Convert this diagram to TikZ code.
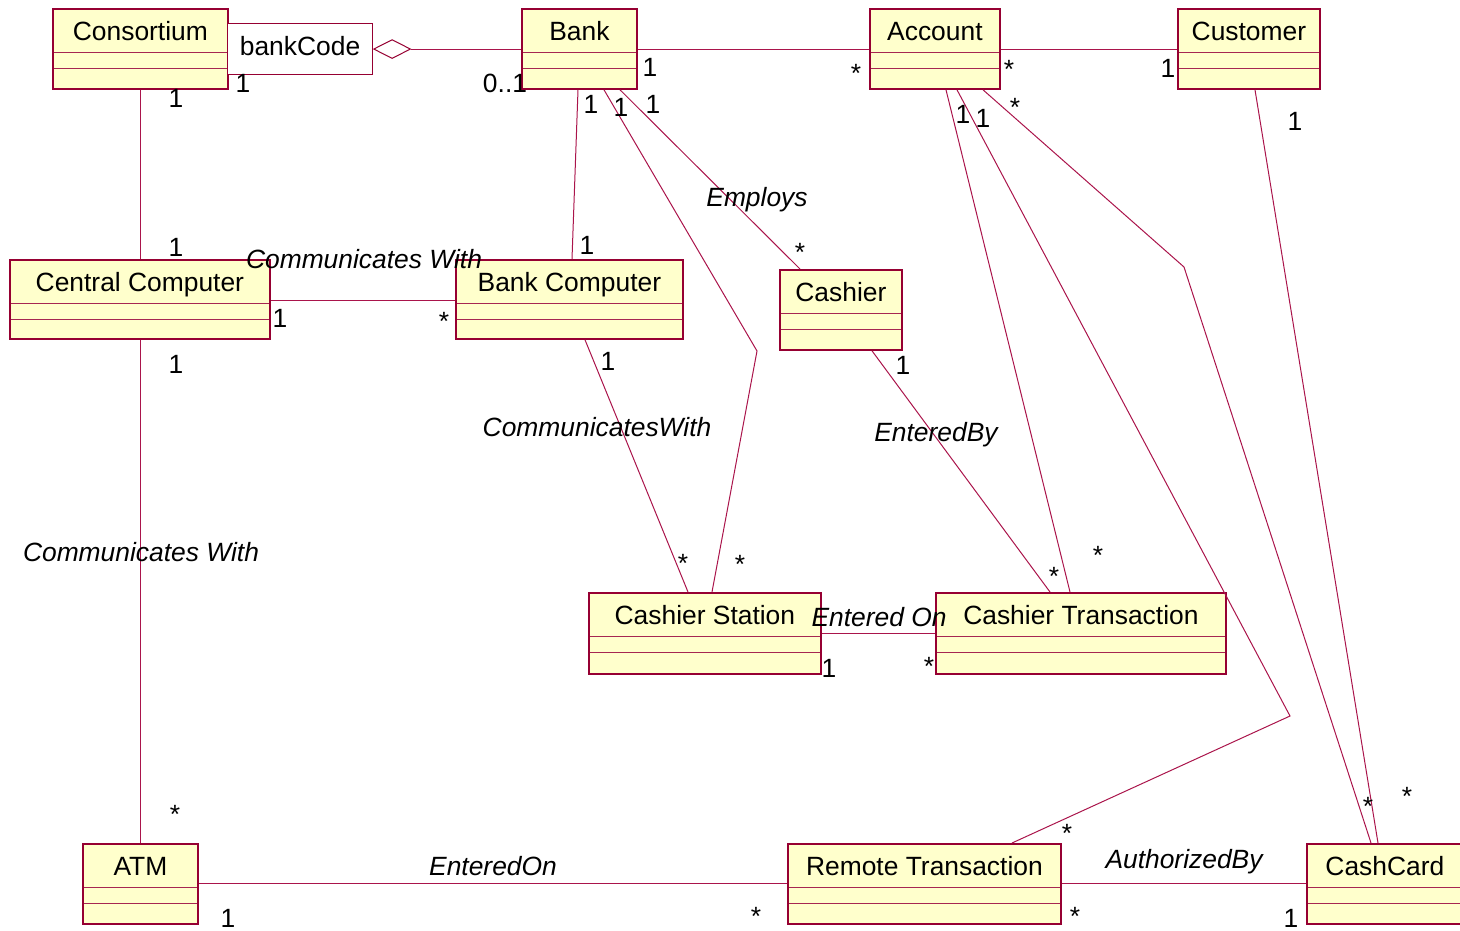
\documentclass[tikz,border=0pt]{standalone}
\usepackage{fontspec}
\setmainfont{Liberation Sans}
\usetikzlibrary{shapes.geometric,calc}
\definecolor{umlred}{RGB}{150,0,50}
\definecolor{umlline}{RGB}{170,20,75}
\definecolor{umlfill}{RGB}{255,255,204}
\tikzset{
  classbox/.style={rectangle, draw=umlred, line width=1.8pt, fill=umlfill,
    inner sep=0pt, anchor=north west,
    path picture={\draw[umlred!85, line width=1pt]
      ([yshift=-44pt]path picture bounding box.north west) -- ([yshift=-44pt]path picture bounding box.north east)
      ([yshift=-60pt]path picture bounding box.north west) -- ([yshift=-60pt]path picture bounding box.north east);}},
  qualbox/.style={rectangle, draw=umlred, line width=1.1pt, fill=white, inner sep=0pt, anchor=north west},
  aggdiamond/.style={diamond, draw=umlred, line width=1pt, fill=white, inner sep=0pt,
    aspect=1.95, minimum width=37pt, minimum height=19pt, anchor=west},
  cname/.style={anchor=base},
  mult/.style={anchor=base},
  role/.style={anchor=base, font=\fontsize{26.4}{30}\selectfont\itshape},
  assoc/.style={draw=umlline, line width=1pt},
}
\newcommand\umlcls[6]{%
  \node[classbox, minimum width=#4pt, minimum height=#5pt] (#1) at (#2,#3) {};
  \node[cname] (#1-name) at ([yshift=-32pt]#1.north) {#6};}
\newcommand\mult[4]{\node[mult] (#1) at (#2,#3) {#4};}
\begin{document}
\begin{tikzpicture}[x=1pt, y=-1pt, every node/.style={font=\fontsize{26.4}{30}\selectfont}]
\useasboundingbox (0,0) rectangle (1460,930);

% classes
\umlcls{cons}{52}{8}{175}{80}{Consortium}
\node[qualbox, minimum width=145pt, minimum height=51pt] (qual) at (227,23) {};
\node[cname] (qual-name) at ([yshift=-32pt]qual.north) {bankCode};
\node[aggdiamond] (agg) at (qual.east) {};
\umlcls{bank}{521}{8}{115}{80}{Bank}
\umlcls{acct}{869}{8}{130}{80}{Account}
\umlcls{cust}{1177}{8}{142}{80}{Customer}
\umlcls{cc}{9}{259}{260}{79}{Central Computer}
\umlcls{bc}{455}{259}{227}{79}{Bank Computer}
\umlcls{cash}{779}{269}{122}{80}{Cashier}
\umlcls{cs}{588}{592}{232}{81}{Cashier Station}
\umlcls{ct}{935}{592}{290}{81}{Cashier Transaction}
\umlcls{atm}{82}{843}{115}{80}{ATM}
\umlcls{rt}{787}{843}{273}{80}{Remote Transaction}
\umlcls{card}{1306}{843}{156}{80}{CashCard}

% connectors
\draw[assoc] (agg.east) -- (agg.east -| bank.west);
\draw[assoc] ([yshift=-41pt]bank.north east) -- ([yshift=-41pt]acct.north west);
\draw[assoc] ([yshift=-41pt]acct.north east) -- ([yshift=-41pt]cust.north west);
\draw[assoc] ([xshift=88pt]cons.south west) -- ([xshift=131pt]cc.north west);
\draw[assoc] ([yshift=-41pt]cc.north east) -- ([yshift=-41pt]bc.north west);
\draw[assoc] ([xshift=57pt]bank.south west) -- ([xshift=117pt]bc.north west);
\draw[assoc] ([xshift=83pt]bank.south west) -- (757,351) -- ([xshift=124pt]cs.north west);
\draw[assoc] ([xshift=99pt]bank.south west) -- ([xshift=21pt]cash.north west);
\draw[assoc] ([xshift=130pt]bc.south west) -- ([xshift=100pt]cs.north west);
\draw[assoc] ([xshift=93pt]cash.south west) -- ([xshift=115pt]ct.north west);
\draw[assoc] ([yshift=-41pt]cs.north east) -- ([yshift=-41pt]ct.north west);
\draw[assoc] ([xshift=77pt]acct.south west) -- ([xshift=135pt]ct.north west);
\draw[assoc] ([xshift=88pt]acct.south west) -- (1290,716) -- ([xshift=225pt]rt.north west);
\draw[assoc] ([xshift=114pt]acct.south west) -- (1184,267) -- ([xshift=65pt]card.north west);
\draw[assoc] ([xshift=78pt]cust.south west) -- ([xshift=72pt]card.north west);
\draw[assoc] ([xshift=131pt]cc.south west) -- ([xshift=58pt]atm.north west);
\draw[assoc] ([yshift=-40pt]atm.north east) -- ([yshift=-40pt]rt.north west);
\draw[assoc] ([yshift=-40pt]rt.north east) -- ([yshift=-40pt]card.north west);

% multiplicities
\mult{mq1}{243}{92}{1}
\mult{m01}{505}{92}{0..1}
\mult{mb1}{650}{76}{1}
\mult{ma1}{856}{82}{*}
\mult{ma2}{1009}{78}{*}
\mult{mc1}{1168}{77}{1}
\mult{mcons}{176}{107}{1}
\mult{mbk1}{591}{113}{1}
\mult{mbk2}{621}{116}{1}
\mult{mbk3}{653}{113}{1}
\mult{mac1}{963}{123}{1}
\mult{mac2}{983}{127}{1}
\mult{mac3}{1015}{116}{*}
\mult{mcu}{1295}{130}{1}
\mult{mcc1}{176}{256}{1}
\mult{mcc2}{280}{327}{1}
\mult{mbc1}{444}{330}{*}
\mult{mcc3}{176}{373}{1}
\mult{mbc2}{587}{254}{1}
\mult{mca1}{800}{261}{*}
\mult{mbc3}{608}{370}{1}
\mult{mca2}{903}{374}{1}
\mult{mcs1}{683}{572}{*}
\mult{mcs2}{740}{573}{*}
\mult{mcs3}{829}{677}{1}
\mult{mct1}{929}{675}{*}
\mult{mct2}{1054}{585}{*}
\mult{mct3}{1098}{564}{*}
\mult{matm1}{175}{823}{*}
\mult{matm2}{228}{927}{1}
\mult{mrt1}{1067}{842}{*}
\mult{mrt2}{756}{925}{*}
\mult{mrt3}{1075}{925}{*}
\mult{mcd1}{1291}{927}{1}
\mult{mcd2}{1368}{815}{*}
\mult{mcd3}{1407}{805}{*}

% role names
\node[role] (r1) at (364,268) {Communicates With};
\node[role] (r2) at (757,206) {Employs};
\node[role] (r3) at (597,436) {CommunicatesWith};
\node[role] (r4) at (936,441) {EnteredBy};
\node[role] (r5) at (879,626) {Entered On};
\node[role] (r6) at (141,561) {Communicates With};
\node[role] (r7) at (493,875) {EnteredOn};
\node[role] (r8) at (1184,868) {AuthorizedBy};
\end{tikzpicture}
\end{document}
